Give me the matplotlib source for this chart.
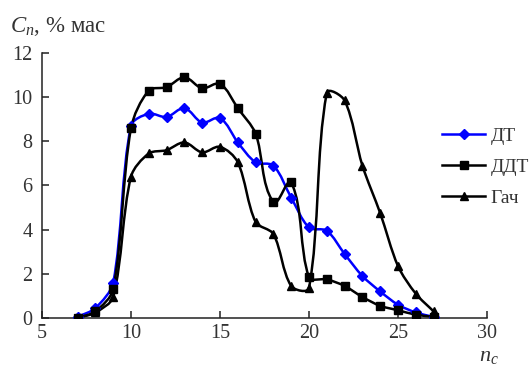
import numpy as np
import matplotlib
matplotlib.use('Agg')
import matplotlib.pyplot as plt
from matplotlib.path import Path
from matplotlib.patches import PathPatch
from matplotlib.lines import Line2D

plt.rcParams['font.family'] = ['Liberation Serif', 'DejaVu Serif']
plt.rcParams['mathtext.fontset'] = 'custom'
plt.rcParams['mathtext.it'] = 'Liberation Serif:italic'
plt.rcParams['mathtext.rm'] = 'Liberation Serif'

n_c = [7, 8, 9, 10, 11, 12, 13, 14, 15, 16, 17, 18, 19, 20, 21, 22, 23, 24, 25, 26, 27]
dt = [0.05, 0.45, 1.6, 8.7, 9.25, 9.1, 9.5, 8.85, 9.05, 7.95, 7.05, 6.9, 5.45,
      4.1, 3.95, 2.9, 1.9, 1.2, 0.6, 0.25, 0.05]
ddt = [0.0, 0.3, 1.3, 8.6, 10.3, 10.45, 10.9, 10.4, 10.6, 9.5, 8.35, 5.25, 6.15,
       1.85, 1.75, 1.45, 0.95, 0.55, 0.35, 0.15, 0.05]
gach = [0.0, 0.25, 0.95, 6.4, 7.45, 7.6, 7.95, 7.5, 7.75, 7.05, 4.35, 3.8, 1.45,
        1.35, 10.2, 9.85, 6.9, 4.75, 2.35, 1.1, 0.3]
labels = ['ДТ', 'ДДТ', 'Гач']

XS, YS = 17.8, 22.1  # rough px per data unit, to keep smoothing isotropic


def smooth_path(x, y, k=0.3):
    # Excel-like smoothed line: cubic Bezier through every point,
    # tangent handles scaled by the adjacent segment length
    p = np.column_stack([np.asarray(x) * XS, np.asarray(y) * YS]).astype(float)
    ext = np.vstack([p[0], p, p[-1]])
    verts = [p[0]]
    codes = [Path.MOVETO]
    for i in range(len(p) - 1):
        a, b, c, d = ext[i], ext[i + 1], ext[i + 2], ext[i + 3]
        seg = np.linalg.norm(c - b)
        t1 = c - a
        t2 = d - b
        t1 = t1 / np.linalg.norm(t1) if np.linalg.norm(t1) > 0 else t1
        t2 = t2 / np.linalg.norm(t2) if np.linalg.norm(t2) > 0 else t2
        verts += [b + t1 * seg * k, c - t2 * seg * k, c]
        codes += [Path.CURVE4] * 3
    verts = np.array(verts) / [XS, YS]
    return Path(verts, codes)


fig = plt.figure(figsize=(5.29, 3.72), dpi=100)
ax = fig.add_axes([0.0794, 0.1452, 0.8412, 0.7123])

styles = [('#0000ff', 'D', 5.5), ('black', 's', 5.5), ('black', '^', 6)]
handles = []
for ys, lab, (col, mk, ms) in zip([dt, ddt, gach], labels, styles):
    ax.add_patch(PathPatch(smooth_path(n_c, ys), fill=False, edgecolor=col,
                           lw=1.8, capstyle='round', joinstyle='round', zorder=2))
    ax.plot(n_c, ys, ls='none', marker=mk, ms=ms, color=col, zorder=3)
    handles.append(Line2D([], [], color=col, lw=1.8, marker=mk, ms=ms))

ax.set_xlim(5, 30)
ax.set_ylim(0, 12)
ax.set_xticks([5, 10, 15, 20, 25, 30])
ax.set_yticks([0, 2, 4, 6, 8, 10, 12])
ax.spines['top'].set_visible(False)
ax.spines['right'].set_visible(False)
for s in ['left', 'bottom']:
    ax.spines[s].set_linewidth(1.1)
    ax.spines[s].set_color('#222222')
ax.tick_params(direction='in', length=5, width=1.1, labelsize=14.5,
               colors='#222222', labelcolor='#333333')
ax.tick_params(axis='x', pad=4)
ax.tick_params(axis='y', pad=7)

ax.legend(handles, labels, loc='center left', bbox_to_anchor=(0.86, 0.57),
          frameon=False, fontsize=14, handlelength=2.2, handletextpad=0.3,
          labelspacing=0.7, labelcolor='#333333')

fig.text(0.019, 0.915, '$C_n$, % мас', fontsize=16.5, color='#333333')
fig.text(0.905, 0.03, '$n_c$', fontsize=16, color='#333333')

fig.savefig('out.png', dpi=100)
